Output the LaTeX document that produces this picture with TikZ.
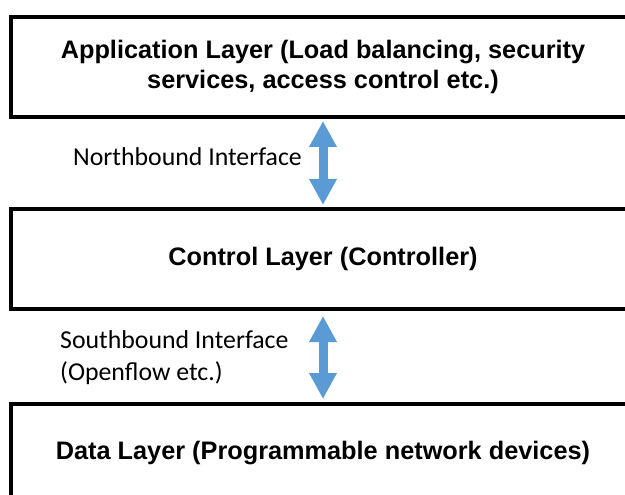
\documentclass[tikz,border=0pt]{standalone}
\usepackage{fontspec}
\setmainfont{Liberation Sans}
\newfontfamily\labelfont{Carlito}
\usetikzlibrary{arrows.meta}
\definecolor{arrowblue}{HTML}{5B9BD5}
\tikzset{
  layer/.style={draw=black, line width=4pt, fill=white, minimum width=624pt,
    minimum height=100pt, anchor=north west, align=center, inner sep=0pt,
    font=\fontsize{25.3}{30}\selectfont\bfseries},
  iface/.style={anchor=west, align=left, inner sep=0pt,
    font=\labelfont\fontsize{25.8}{32}\selectfont},
  updown/.style={draw=arrowblue, line width=9pt,
    {Triangle[length=26pt,width=26pt]}-{Triangle[length=26pt,width=26pt]}}
}
\begin{document}
\begin{tikzpicture}[x=1pt, y=-1pt]
  \useasboundingbox (0,0) rectangle (625,495);
  \clip (0,0) rectangle (625,495);
  \fill[white] (0,0) rectangle (625,495);

  % the three layers
  \node[layer] (app) at (9,15) {Application Layer (Load balancing, security\\services, access control etc.)};
  \node[layer] (ctrl) at (9,207) {Control Layer (Controller)};
  \node[layer, minimum height=98pt] (data) at (9,402) {Data Layer (Programmable network devices)};

  % interfaces between the layers
  \draw[updown] ([yshift=-2pt]app.south) -- ([yshift=2pt]ctrl.north);
  \draw[updown] ([yshift=-5pt]ctrl.south) -- ([yshift=3pt]data.north);

  \node[iface] (north) at (73,157) {Northbound Interface};
  \node[iface, anchor=north west] (south) at (60,330) {Southbound Interface\\(Openflow etc.)};
\end{tikzpicture}
\end{document}
